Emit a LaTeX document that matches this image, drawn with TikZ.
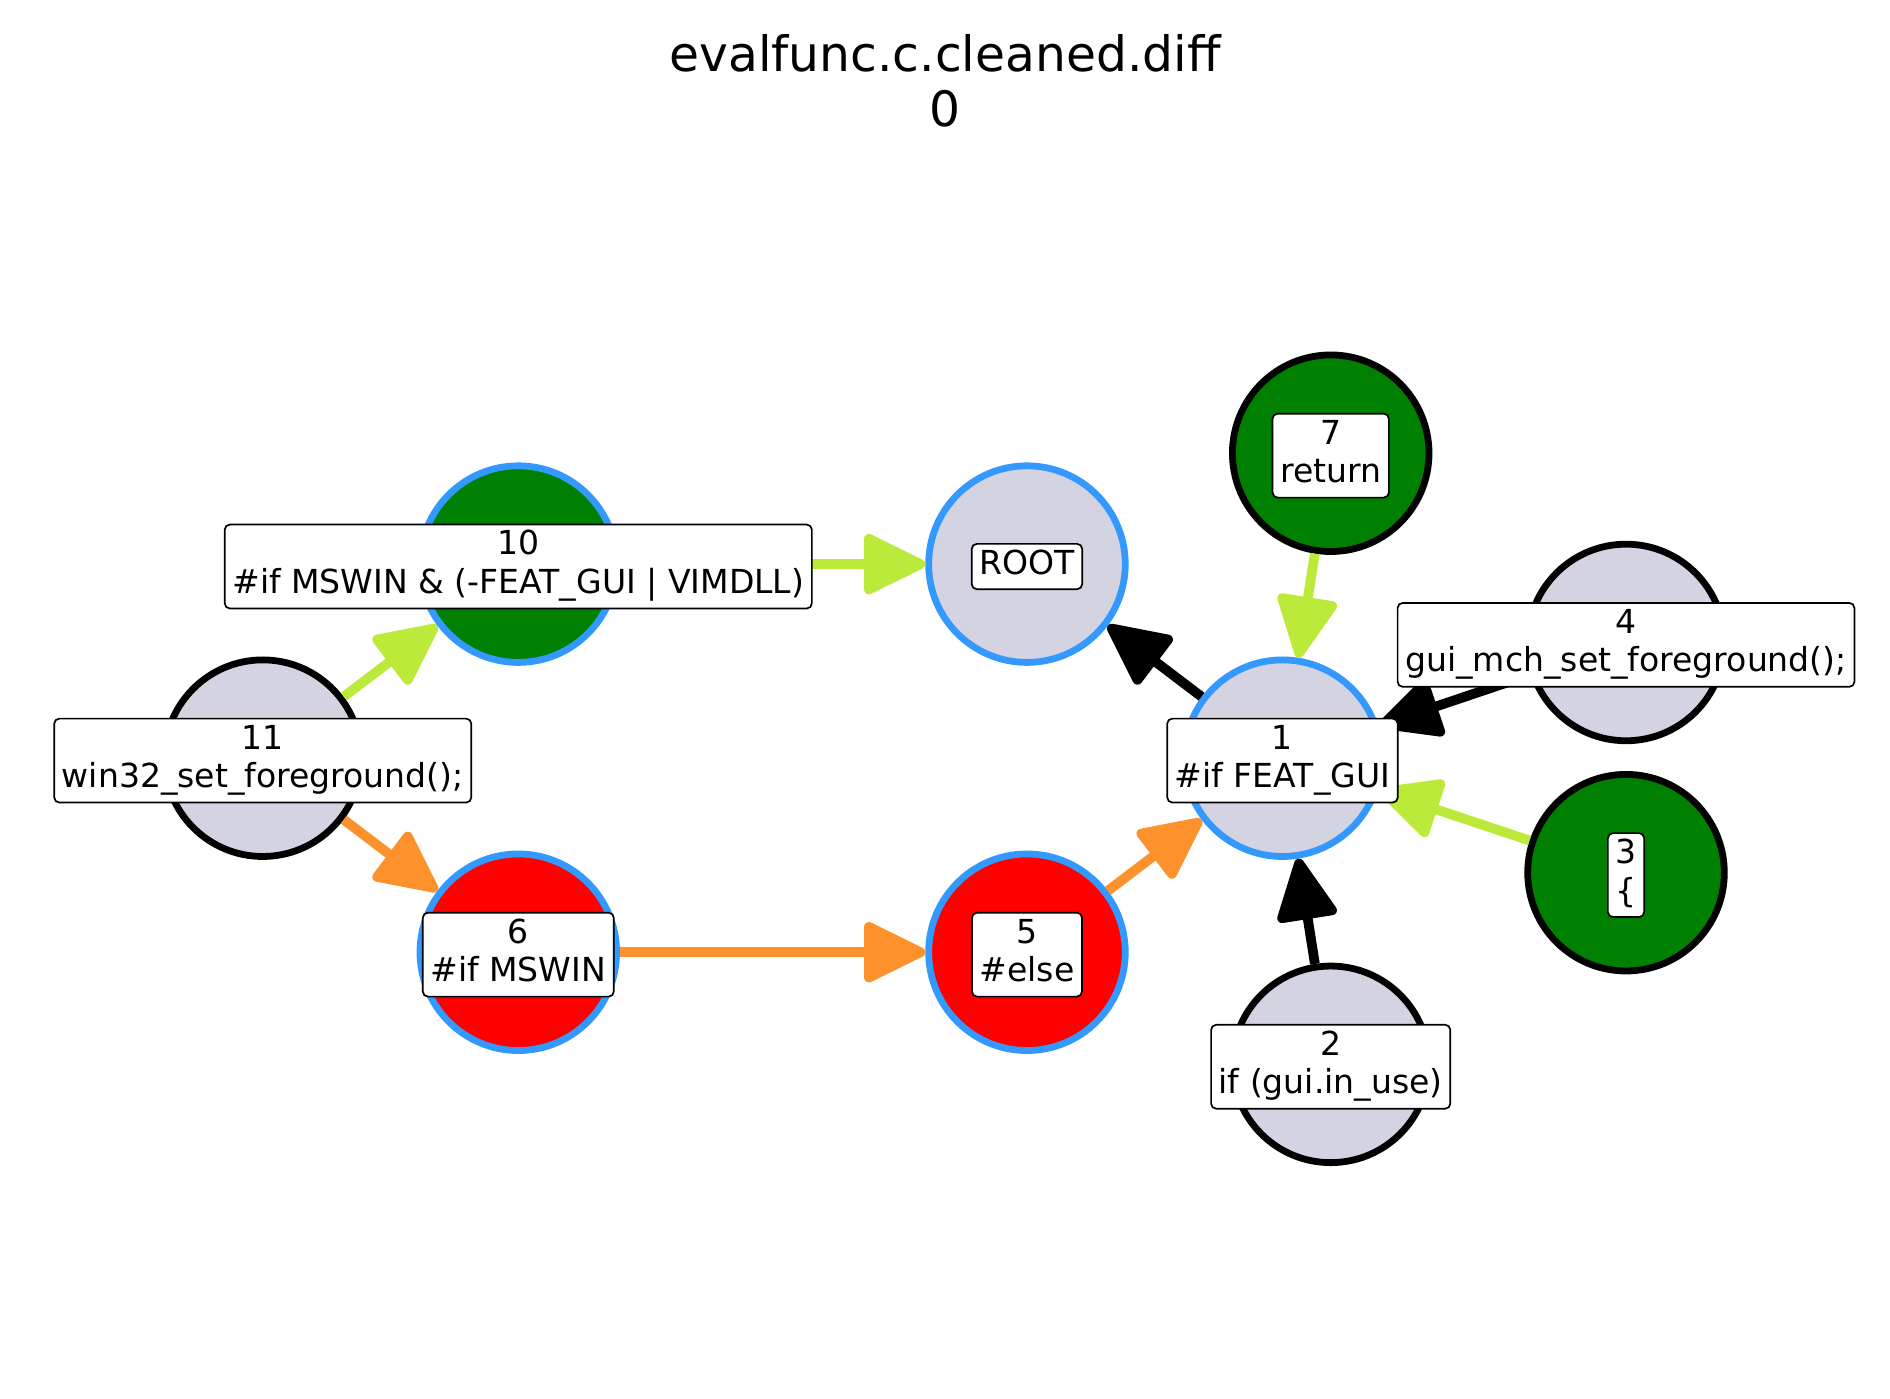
\documentclass[tikz,border=0pt]{standalone}
\usepackage{fontspec}
\setmainfont{DejaVu Sans}
\usepackage{tikz}
\usetikzlibrary{arrows.meta}
\definecolor{nodegrey}{RGB}{211,211,225}
\definecolor{ringblue}{RGB}{51,153,255}
\definecolor{leafgreen}{RGB}{0,128,0}
\definecolor{lime}{RGB}{187,234,58}
\definecolor{orng}{RGB}{253,146,44}
\newcommand{\labfont}{\fontsize{7.8pt}{9.1pt}\selectfont}
\newcommand{\titlefont}{\fontsize{11.5pt}{13pt}\selectfont}
\newcommand{\twoline}[2]{\strut#1\\\strut#2}

\begin{document}
\begin{tikzpicture}[x=0.01cm,y=-0.01cm,
    vert/.style={circle,minimum size=1.63cm,inner sep=0pt,line width=1.6pt,draw=black,fill=nodegrey},
    ring/.style={draw=ringblue},
    lab/.style={draw,fill=white,rounded corners=1.2pt,line width=0.4pt,inner xsep=1.8pt,inner ysep=0.8pt,align=center,font=\labfont,yshift=-0.02cm},
    edge/.style={line width=2.3pt,-{Triangle[length=16pt,width=15pt,round]}}]
\useasboundingbox (0,0) rectangle (1568,1160);
\node[font=\titlefont,align=center,inner sep=0pt] (title) at (784,67) {evalfunc.c.cleaned.diff\\0};

\node[vert,ring] (root) at (852,468) {};
\node[vert,ring,fill=leafgreen] (n10) at (430,468) {};
\node[vert] (n11) at (218,629) {};
\node[vert,ring,fill=red] (n6) at (430,790) {};
\node[vert,ring,fill=red] (n5) at (852,790) {};
\node[vert,ring] (n1) at (1064,629) {};
\node[vert,fill=leafgreen] (n7) at (1104,376) {};
\node[vert] (n4) at (1349,533) {};
\node[vert,fill=leafgreen] (n3) at (1349,724) {};
\node[vert] (n2) at (1104,883) {};

\draw[edge,lime] (n10) -- (root);
\draw[edge,lime] (n11) -- (n10);
\draw[edge,orng] (n11) -- (n6);
\draw[edge,orng] (n6) -- (n5);
\draw[edge,orng] (n5) -- (n1);
\draw[edge] (n1) -- (root);
\draw[edge,lime] (n7) -- (n1);
\draw[edge] (n4) -- (n1);
\draw[edge,lime] (n3) -- (n1);
\draw[edge] (n2) -- (n1);

\node[lab] (lroot) at (root) {\strut ROOT};
\node[lab] (l10) at (n10) {\twoline{10}{\#if MSWIN \& (-FEAT\_GUI | VIMDLL)}};
\node[lab] (l11) at (n11) {\twoline{11}{win32\_set\_foreground();}};
\node[lab] (l6) at (n6) {\twoline{6}{\#if MSWIN}};
\node[lab] (l5) at (n5) {\twoline{5}{\#else}};
\node[lab] (l1) at (n1) {\twoline{1}{\#if FEAT\_GUI}};
\node[lab] (l7) at (n7) {\twoline{7}{return}};
\node[lab] (l4) at (n4) {\twoline{4}{gui\_mch\_set\_foreground();}};
\node[lab] (l3) at (n3) {\twoline{3}{\{}};
\node[lab] (l2) at (n2) {\twoline{2}{if (gui.in\_use)}};
\end{tikzpicture}
\end{document}
